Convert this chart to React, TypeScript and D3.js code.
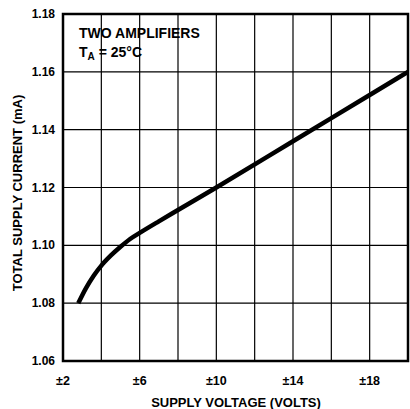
import React from 'react';
import * as d3 from 'd3';

// supply voltage (±V) vs total supply current (mA)
const voltage = [2.8, 3.2, 3.6, 4.0, 4.5, 5.0, 5.5, 6.0, 7.0, 8.0, 10, 14, 18, 20];
const current = [1.08, 1.0852, 1.0895, 1.093, 1.0965, 1.0995, 1.1022, 1.1043, 1.1083, 1.1122, 1.12, 1.136, 1.152, 1.16];

const xTicks = [2, 4, 6, 8, 10, 12, 14, 16, 18, 20];
const xLabels = [2, 6, 10, 14, 18];
const yTicks = [1.06, 1.08, 1.1, 1.12, 1.14, 1.16, 1.18];

const W = 410, H = 409;
const left = 63, right = 408, top = 14, bottom = 361;
const font = '"Liberation Sans", Arial, sans-serif';

export default function App() {
  const x = d3.scaleLinear().domain([2, 20]).range([left, right]);
  const y = d3.scaleLinear().domain([1.06, 1.18]).range([bottom, top]);

  const pts: [number, number][] = voltage.map((v, i) => [v, current[i]]);
  const line = d3.line<[number, number]>()
    .x(d => x(d[0]))
    .y(d => y(d[1]))
    .curve(d3.curveMonotoneX);

  return (
    <svg width={W} height={H} style={{ position: 'absolute', left: 0, top: 0, background: '#fff' }}
         fontFamily={font} fontWeight="bold">
      {xTicks.map(t => (
        <line key={'x' + t} x1={x(t)} x2={x(t)} y1={top} y2={bottom} stroke="#000" strokeWidth={1.2} />
      ))}
      {yTicks.map(t => (
        <line key={'y' + t} x1={left} x2={right} y1={y(t)} y2={y(t)} stroke="#000" strokeWidth={1.2} />
      ))}
      <rect x={left} y={top} width={right - left} height={bottom - top} fill="none" stroke="#000" strokeWidth={2.5} />

      <path d={line(pts) ?? ''} fill="none" stroke="#000" strokeWidth={4.5} />

      {yTicks.map(t => (
        <text key={'yl' + t} x={left - 8} y={y(t) + 4} textAnchor="end" fontSize={12}>{t.toFixed(2)}</text>
      ))}
      {xLabels.map(t => (
        <text key={'xl' + t} x={x(t)} y={bottom + 24} textAnchor="middle" fontSize={12.5}>±{t}</text>
      ))}

      <text x={236} y={407} textAnchor="middle" fontSize={13}>SUPPLY VOLTAGE (VOLTS)</text>
      <text transform={`translate(22,193) rotate(-90)`} textAnchor="middle" fontSize={13}>
        TOTAL SUPPLY CURRENT (mA)
      </text>

      <text x={79} y={38} fontSize={14}>TWO AMPLIFIERS</text>
      <text x={79} y={57} fontSize={14}>
        T<tspan fontSize={10} dy={3}>A</tspan><tspan dy={-3}> = 25°C</tspan>
      </text>
    </svg>
  );
}
